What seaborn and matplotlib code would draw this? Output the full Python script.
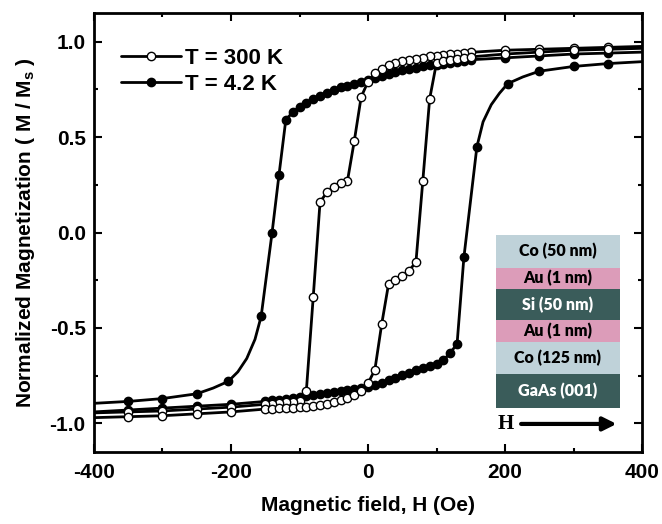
import numpy as np
import pandas as pd
import matplotlib
matplotlib.use("Agg")
import matplotlib.pyplot as plt
import seaborn as sns
from matplotlib.ticker import MultipleLocator, FormatStrFormatter
from matplotlib.patches import Rectangle

# 4.2 K, field sweep from +400 down to -400 Oe
H_42_down = [400, 350, 300, 250, 200,
             150, 140, 130, 120, 110, 100, 90, 80, 70, 60, 50, 40, 30, 20, 10, 0,
             -10, -20, -30, -40, -50, -60, -70, -80, -90, -100, -110, -120, -130, -140,
             -156, -165, -177, -190, -204, -226, -250, -300, -350, -400]
M_42_down = [0.945, 0.94, 0.935, 0.925, 0.915,
             0.905, 0.90, 0.895, 0.89, 0.885, 0.88, 0.875, 0.87, 0.86, 0.855, 0.85, 0.84, 0.83, 0.82, 0.81, 0.80,
             0.79, 0.78, 0.77, 0.76, 0.745, 0.73, 0.715, 0.70, 0.68, 0.66, 0.63, 0.59, 0.30, 0.0,
             -0.44, -0.56, -0.66, -0.73, -0.78, -0.815, -0.845, -0.87, -0.885, -0.895]
H_42_down_line_only = [-165, -177, -190, -226]

# 4.2 K, field sweep from -400 up to +400 Oe
H_42_up = [-400, -350, -300, -250, -200,
           -150, -140, -130, -120, -110, -100, -90, -80, -70, -60, -50, -40, -30, -20, -10, 0,
           10, 20, 30, 40, 50, 60, 70, 80, 90, 100, 110, 120, 130, 140,
           159, 168, 180, 192, 204, 226, 250, 300, 350, 400]
M_42_up = [-0.94, -0.93, -0.92, -0.91, -0.90,
           -0.885, -0.88, -0.875, -0.87, -0.865, -0.86, -0.855, -0.85, -0.845, -0.84, -0.835, -0.83, -0.825, -0.82, -0.815, -0.81,
           -0.80, -0.79, -0.775, -0.76, -0.745, -0.735, -0.72, -0.71, -0.70, -0.69, -0.67, -0.63, -0.585, -0.13,
           0.45, 0.58, 0.67, 0.73, 0.78, 0.815, 0.845, 0.87, 0.885, 0.895]
H_42_up_line_only = [168, 180, 192, 226]

# 300 K, sweep down
H_300_down = [400, 350, 300, 250, 200,
              150, 140, 130, 120, 110, 100, 90, 80, 70, 60, 50, 40, 30, 20, 10, 0,
              -10, -20, -30, -40, -50, -60, -70, -80, -90, -100, -110, -120, -130, -140, -150,
              -200, -250, -300, -350, -400]
M_300_down = [0.975, 0.97, 0.965, 0.96, 0.955,
              0.944, 0.94, 0.937, 0.933, 0.931, 0.926, 0.923, 0.916, 0.911, 0.906, 0.898, 0.889, 0.875, 0.857, 0.836, 0.79,
              0.71, 0.48, 0.27, 0.26, 0.24, 0.21, 0.16, -0.34, -0.83, -0.885, -0.888, -0.89, -0.893, -0.896, -0.90,
              -0.915, -0.925, -0.935, -0.94, -0.945]

# 300 K, sweep up
H_300_up = [-400, -350, -300, -250, -200,
            -150, -140, -130, -120, -110, -100, -90, -80, -70, -60, -50, -40, -30, -20, -10, 0,
            10, 20, 30, 40, 50, 60, 70, 80, 90, 100, 110, 120, 130, 140, 150,
            200, 250, 300, 350, 400]
M_300_up = [-0.97, -0.965, -0.96, -0.95, -0.94,
            -0.925, -0.924, -0.922, -0.92, -0.918, -0.915, -0.912, -0.908, -0.904, -0.898, -0.89, -0.88, -0.866, -0.852, -0.83, -0.79,
            -0.72, -0.48, -0.27, -0.25, -0.23, -0.20, -0.155, 0.27, 0.70, 0.889, 0.898, 0.903, 0.91, 0.915, 0.92,
            0.935, 0.945, 0.955, 0.96, 0.965]

# sample stack for the inset (top to bottom)
layer_names = ["Co (50 nm)", "Au (1 nm)", "Si (50 nm)", "Au (1 nm)", "Co (125 nm)", "GaAs (001)"]
layer_heights = [0.163, 0.106, 0.154, 0.108, 0.160, 0.171]
layer_colors = ["#bfd2d9", "#dc9cb9", "#3a5c5a", "#dc9cb9", "#bfd2d9", "#3a5c5a"]
layer_text = ["black", "black", "white", "black", "black", "white"]

sns.set_theme(style="ticks")
plt.rcParams["font.family"] = ["Liberation Sans", "DejaVu Sans"]
plt.rcParams["font.weight"] = "bold"
plt.rcParams["text.color"] = "black"
plt.rcParams["axes.labelcolor"] = "black"
plt.rcParams["axes.unicode_minus"] = False
plt.rcParams["mathtext.fontset"] = "custom"
plt.rcParams["mathtext.bf"] = "Liberation Sans:bold"
plt.rcParams["mathtext.rm"] = "Liberation Sans:bold"

fig = plt.figure(figsize=(6.62, 5.24), dpi=100)
ax = fig.add_axes([94 / 662, 1 - 452 / 524, 548 / 662, 439 / 524])

branches = [
    (H_42_down, M_42_down, H_42_down_line_only, "black"),
    (H_42_up, M_42_up, H_42_up_line_only, "black"),
    (H_300_down, M_300_down, [], "white"),
    (H_300_up, M_300_up, [], "white"),
]
handles = []
for H, M, skip, face in branches:
    df = pd.DataFrame({"H": H, "M": M})
    marks = [i for i, h in enumerate(H) if 0 < i < len(H) - 1 and h not in skip]
    sns.lineplot(data=df, x="H", y="M", sort=False, estimator=None, ax=ax,
                 color="black", lw=2.0, marker="o", markersize=6,
                 markevery=marks, markerfacecolor=face,
                 markeredgecolor="black", markeredgewidth=1.0)
    handles.append(ax.lines[-1])

ax.legend([handles[2], handles[0]], ["T = 300 K", "T = 4.2 K"],
          loc="upper left", bbox_to_anchor=(0.05, 0.92), frameon=False,
          fontsize=16, handlelength=2.7, handletextpad=0.15,
          labelspacing=0.2, borderpad=0, borderaxespad=0)

ax.set_xlim(-400, 400)
ax.set_ylim(-1.15, 1.15)
ax.xaxis.set_major_locator(MultipleLocator(200))
ax.xaxis.set_minor_locator(MultipleLocator(100))
ax.yaxis.set_major_locator(MultipleLocator(0.5))
ax.yaxis.set_minor_locator(MultipleLocator(0.25))
ax.yaxis.set_major_formatter(FormatStrFormatter("%.1f"))
ax.tick_params(which="both", direction="in", top=True, right=True, width=1.5,
               labelsize=15, colors="black")
ax.tick_params(which="major", length=6)
ax.tick_params(which="minor", length=3)
ax.tick_params(axis="x", pad=8)
ax.tick_params(axis="y", pad=6)
for s in ax.spines.values():
    s.set_linewidth(2)
    s.set_color("black")

ax.set_xlabel("Magnetic field, H (Oe)", fontsize=15, fontweight="bold", labelpad=10)
ax.set_ylabel(r"Normalized Magnetization ( M / M$_\mathbf{s}$ )", fontsize=15,
              fontweight="bold", labelpad=9)

# inset with the layer stack
ins = fig.add_axes([496 / 662, 1 - 436 / 524, 124 / 662, 201 / 524])
ins.set_xlim(0, 1)
ins.set_ylim(0, 1)
ins.axis("off")
top = 1.0
for name, h, c, tc in zip(layer_names, layer_heights, layer_colors, layer_text):
    ins.add_patch(Rectangle((0, top - h), 1, h, facecolor=c, edgecolor="none"))
    ins.text(0.5, top - h / 2, name, ha="center", va="center", color=tc,
             fontsize=11.5, fontweight="heavy", family=["Lato", "DejaVu Sans"])
    top -= h
ins.text(0.08, 0.06, "H", ha="center", va="center", fontsize=15, fontweight="bold",
         family=["Liberation Serif", "DejaVu Serif"])
ins.annotate("", xy=(0.995, 0.06), xytext=(0.18, 0.06),
             arrowprops=dict(arrowstyle="-|>", lw=3, color="black", mutation_scale=20))

fig.savefig("out.png", dpi=100)
